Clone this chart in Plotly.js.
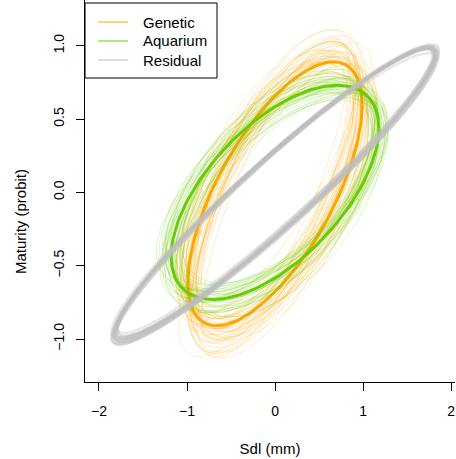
<!DOCTYPE html>
<html>
<head>
<meta charset="utf-8">
<script src="https://cdn.plot.ly/plotly-3.0.1.min.js"></script>
<style>html,body{margin:0;padding:0;background:#fff;}#chart{width:456px;height:459px;}</style>
</head>
<body>
<div id="chart"></div>
<script>
// ---- Data: ellipse parameters (centre x, centre y, SD x, SD y, correlation) ----
const groupNames = ["Genetic", "Aquarium", "Residual"];
const groupColors = ["#FFA500", "#66CD00", "#BEBEBE"];

// Posterior mean ellipses
const meanCx  = [0.00, 0.00, 0.00];
const meanCy  = [-0.01, 0.00, -0.01];
const meanSx  = [0.99, 1.18, 1.83];
const meanSy  = [0.90, 0.73, 1.00];
const meanRho = [0.67, 0.60, 0.955];

// Posterior sample ellipses - Genetic
const genCx  = [0.02,-0.03,0.01,0.04,-0.02,0.00,0.03,-0.04,0.01,-0.01,0.05,-0.02,0.02,-0.03,0.00,0.03,-0.01,0.04,-0.04,0.01,0.02,-0.02,0.03,0.00,-0.03,0.01,0.04,-0.01,0.02,-0.02,0.00,0.03,-0.02,0.01,-0.04,0.02,0.00,-0.01,0.03,-0.03,0.01,0.02,-0.02,0.04,0.00];
const genCy  = [-0.03,0.02,-0.05,0.00,-0.02,0.03,-0.04,0.01,-0.01,0.02,-0.06,0.00,-0.03,0.04,-0.02,0.01,-0.04,0.02,0.00,-0.05,0.03,-0.01,-0.02,0.01,-0.03,0.02,-0.04,0.00,0.03,-0.02,0.01,-0.03,0.02,-0.05,0.00,-0.01,0.03,-0.02,0.00,-0.04,0.02,-0.01,-0.03,0.01,-0.02];
const genSx  = [0.92,1.05,0.97,1.10,0.88,1.01,0.95,1.08,0.99,0.90,1.12,0.94,1.03,0.96,1.06,0.87,1.00,0.93,1.09,0.98,1.04,0.91,1.13,0.95,1.02,0.89,1.07,0.97,1.00,0.94,0.84,1.15,0.99,1.11,0.86,1.03,0.93,1.07,0.90,1.01,0.96,1.14,0.88,1.05,0.98];
const genSy  = [0.95,0.88,1.05,0.92,0.84,1.00,0.97,0.90,1.08,0.86,0.94,1.02,0.83,0.99,0.91,0.96,1.06,0.87,0.93,1.01,0.85,0.98,0.89,1.10,0.92,0.95,0.82,1.03,0.90,0.97,1.04,0.87,0.80,1.07,0.93,1.12,0.86,0.99,1.01,0.79,0.94,0.96,1.09,0.88,0.91];
const genRho = [0.68,0.62,0.72,0.58,0.75,0.65,0.70,0.55,0.74,0.63,0.60,0.77,0.66,0.71,0.57,0.69,0.64,0.73,0.61,0.67,0.78,0.59,0.70,0.66,0.52,0.74,0.63,0.69,0.72,0.60,0.82,0.56,0.65,0.79,0.71,0.62,0.84,0.50,0.76,0.68,0.80,0.64,0.73,0.54,0.70];

// Posterior sample ellipses - Aquarium
const aqCx  = [0.01,-0.02,0.03,0.00,-0.03,0.02,-0.01,0.04,0.00,-0.02,0.01,0.03,-0.04,0.02,0.00,-0.01,0.03,-0.02,0.01,0.00,0.02,-0.03,0.01,-0.01,0.03,0.00,-0.02,0.02,-0.04,0.01,0.00,0.03,-0.01,0.02,-0.02];
const aqCy  = [0.00,0.02,-0.02,0.01,-0.01,0.03,0.00,-0.03,0.02,0.01,-0.02,0.00,0.01,-0.01,0.02,-0.03,0.01,0.00,-0.02,0.02,-0.01,0.01,0.03,-0.02,0.00,0.02,-0.01,0.00,0.01,-0.03,0.02,-0.01,0.00,0.01,-0.02];
const aqSx  = [1.15,1.22,1.10,1.28,1.18,1.08,1.25,1.20,1.13,1.30,1.17,1.11,1.24,1.19,1.06,1.27,1.16,1.21,1.12,1.26,1.09,1.32,1.14,1.23,1.07,1.19,1.29,1.11,1.21,1.16,1.25,1.04,1.18,1.27,1.13];
const aqSy  = [0.74,0.68,0.80,0.71,0.77,0.65,0.73,0.82,0.70,0.76,0.66,0.79,0.72,0.69,0.75,0.78,0.64,0.81,0.73,0.70,0.84,0.67,0.76,0.72,0.63,0.79,0.74,0.69,0.83,0.71,0.66,0.77,0.75,0.68,0.80];
const aqRho = [0.60,0.55,0.65,0.52,0.62,0.58,0.68,0.50,0.63,0.57,0.66,0.54,0.61,0.70,0.56,0.59,0.64,0.53,0.67,0.60,0.48,0.62,0.72,0.57,0.65,0.51,0.69,0.58,0.63,0.74,0.55,0.61,0.47,0.66,0.59];

// Posterior sample ellipses - Residual
const resCx  = [0.00,0.01,-0.01,0.02,0.00,-0.02,0.01,0.00,-0.01,0.01,0.00,0.02,-0.01,0.00,0.01];
const resCy  = [-0.01,0.00,-0.02,-0.01,0.01,-0.02,0.00,-0.01,-0.03,0.00,-0.02,-0.01,0.00,-0.02,-0.01];
const resSx  = [1.83,1.80,1.85,1.82,1.79,1.84,1.81,1.86,1.83,1.80,1.82,1.84,1.81,1.83,1.85];
const resSy  = [1.00,0.98,1.01,0.99,0.97,1.02,1.00,0.99,1.01,0.98,1.00,1.02,0.99,0.97,1.01];
const resRho = [0.955,0.952,0.958,0.950,0.956,0.953,0.960,0.951,0.957,0.954,0.949,0.959,0.955,0.952,0.956];

// Axis ticks
const xTicks = [-2, -1, 0, 1, 2];
const xTickText = ["\u22122", "\u22121", "0", "1", "2"];
const yTicks = [-1.0, -0.5, 0.0, 0.5, 1.0];
const yTickText = ["\u22121.0", "\u22120.5", "0.0", "0.5", "1.0"];

// ---- Build ellipse outlines from the parameters ----
const NPTS = 160;
function ellipse(cx, cy, sx, sy, rho) {
  const xs = [], ys = [], k = Math.sqrt(1 - rho * rho);
  for (let i = 0; i <= NPTS; i++) {
    const t = 2 * Math.PI * i / NPTS;
    xs.push(cx + sx * Math.cos(t));
    ys.push(cy + sy * (rho * Math.cos(t) + k * Math.sin(t)));
  }
  return {x: xs, y: ys};
}
function rgba(hex, a) {
  const r = parseInt(hex.slice(1,3),16), g = parseInt(hex.slice(3,5),16), b = parseInt(hex.slice(5,7),16);
  return `rgba(${r},${g},${b},${a})`;
}

const traces = [];
function addSamples(cx, cy, sx, sy, rho, color, alpha, width) {
  for (let i = 0; i < sx.length; i++) {
    const e = ellipse(cx[i], cy[i], sx[i], sy[i], rho[i]);
    traces.push({type: "scatter", mode: "lines", x: e.x, y: e.y,
      line: {color: rgba(color, alpha), width: width}, hoverinfo: "skip", showlegend: false});
  }
}
function addMean(g, color, width) {
  const e = ellipse(meanCx[g], meanCy[g], meanSx[g], meanSy[g], meanRho[g]);
  traces.push({type: "scatter", mode: "lines", x: e.x, y: e.y, name: groupNames[g],
    line: {color: color, width: width}, hoverinfo: "skip", showlegend: false});
}

addSamples(genCx, genCy, genSx, genSy, genRho, groupColors[0], 0.2, 1);
addMean(0, groupColors[0], 3);
addSamples(aqCx, aqCy, aqSx, aqSy, aqRho, groupColors[1], 0.2, 1);
addMean(1, groupColors[1], 3);
addSamples(resCx, resCy, resSx, resSy, resRho, groupColors[2], 0.35, 2.5);
addMean(2, rgba(groupColors[2], 0.5), 3);

// ---- Legend (drawn as a boxed key like the original) ----
const plotW = 456 - 85 - 1, plotH = 459 - 77;
const px = v => (v - 85) / plotW;
const py = v => (plotH - v) / plotH;
const legendRows = [22, 41, 60];
const shapes = [{type: "rect", xref: "paper", yref: "paper", x0: px(85), x1: px(217), y0: py(78), y1: py(3),
  fillcolor: "white", line: {color: "black", width: 1}, layer: "above"}];
const annotations = [];
groupNames.forEach((n, i) => {
  shapes.push({type: "line", xref: "paper", yref: "paper", x0: px(98), x1: px(128), y0: py(legendRows[i]), y1: py(legendRows[i]),
    line: {color: groupColors[i], width: 1}, layer: "above"});
  annotations.push({xref: "paper", yref: "paper", x: px(141), y: py(legendRows[i]), text: n, showarrow: false,
    xanchor: "left", yanchor: "middle", font: {size: 15, color: "black"}});
});
annotations.push({xref: "paper", yref: "paper", x: px(20), y: py(222), text: "Maturity (probit)", textangle: -90,
  showarrow: false, xanchor: "center", yanchor: "middle", font: {size: 15, color: "black"}});

const layout = {
  width: 456, height: 459,
  margin: {l: 85, r: 1, t: 0, b: 77},
  paper_bgcolor: "white", plot_bgcolor: "white",
  font: {family: "Liberation Sans, Arial, sans-serif", size: 14, color: "black"},
  showlegend: false,
  xaxis: {range: [-2.159, 2.045], tickvals: xTicks, ticktext: xTickText, ticks: "outside", ticklen: 8,
    tickcolor: "black", showline: true, linecolor: "black", linewidth: 1, showgrid: false, zeroline: false,
    ticklabelstandoff: 8,
    title: {text: "Sdl (mm)", font: {size: 15}, standoff: 25}},
  yaxis: {range: [-1.2932, 1.3116], tickvals: yTicks, ticktext: yTickText, ticks: "outside", ticklen: 8,
    tickcolor: "black", showline: true, linecolor: "black", linewidth: 1, showgrid: false, zeroline: false,
    tickangle: -90, ticklabelstandoff: 6},
  shapes: shapes, annotations: annotations
};

Plotly.newPlot("chart", traces, layout, {displayModeBar: false, staticPlot: true});
</script>
</body>
</html>
